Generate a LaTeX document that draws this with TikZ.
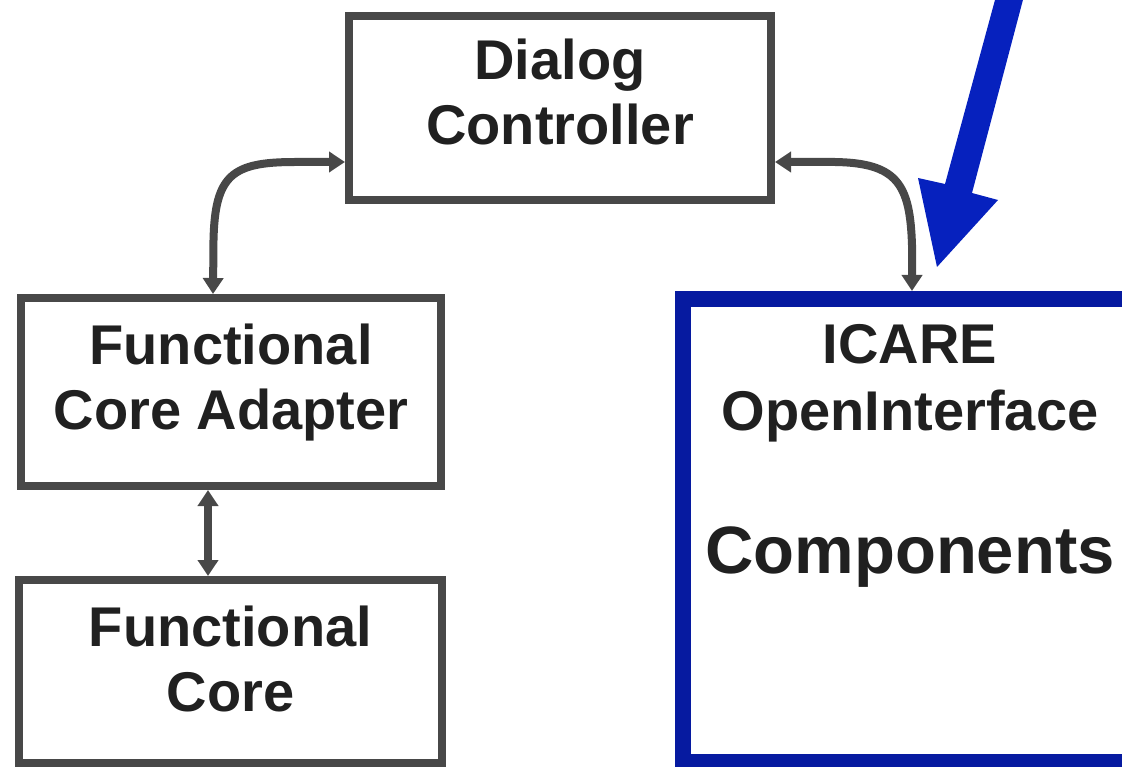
\documentclass[tikz,border=0pt]{standalone}
\usepackage{fontspec}
\setmainfont{Liberation Sans}
\usetikzlibrary{arrows.meta}
\definecolor{dgray}{RGB}{72,72,72}
\definecolor{boxblue}{RGB}{6,26,160}
\definecolor{arrblue}{RGB}{6,33,190}
\definecolor{txt}{RGB}{32,32,32}
\tikzset{
  box/.style={draw=dgray, line width=8pt, rectangle, inner sep=0pt},
  bluebox/.style={draw=boxblue, line width=16pt, rectangle, inner sep=0pt},
  lbl/.style={anchor=base, text=txt, font=\fontsize{56}{65}\selectfont\bfseries, inner sep=0pt},
  biglbl/.style={anchor=base, text=txt, font=\fontsize{67}{75}\selectfont\bfseries, inner sep=0pt},
  conn/.style={draw=dgray, line width=8pt, {Triangle[width=20pt,length=16pt]}-{Triangle[width=20pt,length=16pt]}},
}
\begin{document}
\begin{tikzpicture}[x=1pt,y=-1pt]
\useasboundingbox (0,0) rectangle (1122,767);
\clip (0,0) rectangle (1122,767);
% boxes
\node[box, minimum width=422pt, minimum height=184pt] (dc) at (560,108) {};
\node[box, minimum width=420pt, minimum height=188pt] (fca) at (231,392) {};
\node[box, minimum width=423pt, minimum height=183pt] (fc) at (230.5,671.5) {};
\node[bluebox, minimum width=457pt, minimum height=463pt] (ic) at (911.5,530.5) {};
% labels
\node[lbl] (t1) at (560,80) {Dialog};
\node[lbl] (t2) at (560,145) {Controller};
\node[lbl] (t3) at (231,364) {Functional};
\node[lbl] (t4) at (231,429) {Core Adapter};
\node[lbl] (t5) at (230.5,646) {Functional};
\node[lbl] (t6) at (230.5,711) {Core};
\node[lbl] (t7) at (910,363) {ICARE};
\node[lbl] (t8) at (910,430) {OpenInterface};
\node[biglbl] (t9) at (910,573) {Components};
% connectors
\draw[conn] ([yshift=-54pt]dc.west) -- (295,162) .. controls (232,162) and (215,175) .. (213.5,240) -- ([xshift=-18pt]fca.north);
\draw[conn] ([yshift=-54pt]dc.east) -- (835,162) .. controls (898,163) and (910,185) .. (912,245) -- ([xshift=0.5pt]ic.north);
\draw[conn] ([xshift=-23pt]fca.south) -- ([xshift=-22.5pt]fc.north);
% big blue arrow
\coordinate (bt) at (937,267);
\fill[arrblue] (1000.4,-20) -- (945,184) -- (918,178) -- (bt) -- (998,200) -- (972,193) -- (1028.2,-20) -- cycle;
\end{tikzpicture}
\end{document}
